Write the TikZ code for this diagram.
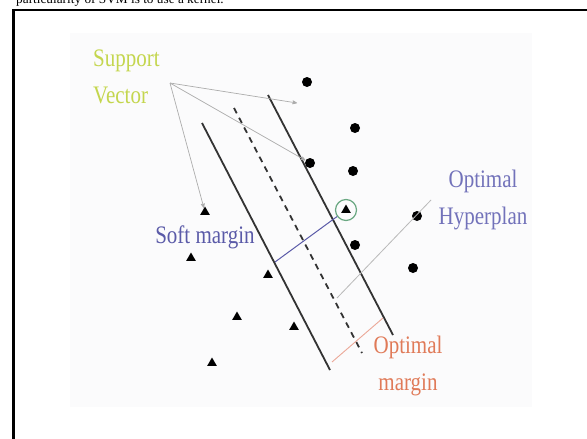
\documentclass[tikz,border=0pt]{standalone}
\usepackage{fontspec}
\setmainfont{Liberation Serif}
\usepackage{xcolor}
\usetikzlibrary{positioning, arrows, calc, shapes.geometric}
\definecolor{svgreen}{HTML}{C4D64E}
\definecolor{softblue}{HTML}{5A5AA8}
\definecolor{hypblue}{HTML}{7272BA}
\definecolor{margred}{HTML}{E07A58}
\definecolor{margline}{HTML}{EBA898}
\definecolor{ringgreen}{HTML}{6AA882}
\definecolor{photobg}{HTML}{FBFBFC}
\tikzset{
    dot/.style={
        circle,
        fill=black,
        inner sep=0pt,
        minimum size=10pt
    },
    tri/.style={
        regular polygon,
        regular polygon sides=3,
        fill=black,
        inner sep=0pt,
        minimum size=11pt
    },
    ring/.style={
        circle,
        draw=ringgreen,
        line width=1.2pt,
        inner sep=0pt,
        minimum size=21pt
    },
    hplane/.style={
        draw=black!80,
        line width=1.8pt
    },
    label/.style={
        font=\fontsize{21}{31}\selectfont,
        inner sep=0pt,
        yscale=1.2
    },
    ptr/.style={
        ->,
        >=stealth',
        draw=gray!65,
        line width=0.7pt
    }
}

\begin{document}
\begin{tikzpicture}[x=1pt, y=-1pt]
    \useasboundingbox (0,0) rectangle (587,439);
    \fill[photobg] (70,33) rectangle (532,407);
    \node[anchor=base west, inner sep=0pt, font=\fontsize{13.3}{15}\selectfont] (caption) at (16,4) {particularity of SVM is to use a kernel.};
    \draw[line width=2.5pt] (13.5,445) -- (13.5,10) -- (595,10);

    % hyperplanes
    \coordinate (l1a) at (202,123);
    \coordinate (l1b) at (330,370);
    \coordinate (l2a) at (234,108);
    \coordinate (l2b) at (362,353);
    \coordinate (l3a) at (268,95);
    \coordinate (l3b) at (393,335);
    \draw[hplane] (l1a) -- (l1b);
    \draw[hplane, dash pattern=on 6pt off 5pt] (l2a) -- (l2b);
    \draw[hplane] (l3a) -- (l3b);

    % circles
    \node[dot] (c1) at (307,82) {};
    \node[dot] (c2) at (355,128) {};
    \node[dot] (c3) at (310,163) {};
    \node[dot] (c4) at (353,171) {};
    \node[dot] (c5) at (355,245) {};
    \node[dot] (c6) at (417,216) {};
    \node[dot] (c7) at (413,268) {};

    % triangles
    \node[tri] (t1) at (205,212) {};
    \node[tri] (t2) at (191,258) {};
    \node[tri] (t3) at (268,275) {};
    \node[tri] (t4) at (237,317) {};
    \node[tri] (t5) at (294,327) {};
    \node[tri] (t6) at (212,363) {};
    \node[tri] (t7) at (346,210) {};
    \node[ring] (sv) at (t7) {};

    % labels
    \node[label, align=left, anchor=west, text=svgreen] (support) at (93,77) {Support\\Vector};
    \node[label, anchor=base, text=softblue] (soft) at (205,243) {Soft margin};
    \node[label, align=center, text=hypblue] (hyper) at (483,200) {Optimal\\Hyperplan};
    \node[label, align=center, text=margred] (optm) at (408,366) {Optimal\\margin};

    % pointers
    \coordinate (svp) at (170,83);
    \coordinate (svend) at (297,103);
    \draw[ptr] (svp) -- (svend);
    \draw[ptr] (svp) -- (c3);
    \draw[ptr] (svp) -- (t1);
    \coordinate (hptop) at (431,200);
    \coordinate (hpend) at (337,298);
    \draw[draw=gray!55, line width=0.8pt] (hptop) -- (hpend);
    \coordinate (sm) at (275,262);
    \draw[draw=softblue, line width=1pt] (sm) -- (sv);
    \coordinate (om1) at (332,362);
    \coordinate (om2) at (383,318);
    \draw[draw=margline, line width=0.9pt] (om1) -- (om2);
\end{tikzpicture}
\end{document}
